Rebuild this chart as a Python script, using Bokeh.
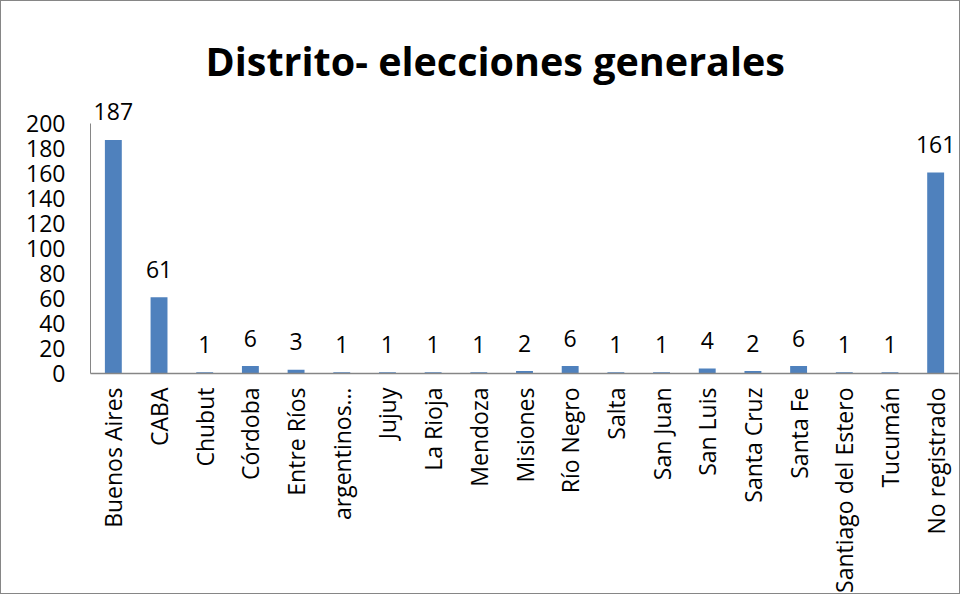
import math
from bokeh.plotting import figure
from bokeh.models import ColumnDataSource, FactorRange, Range1d, FixedTicker
from bokeh.core.properties import value
from bokeh.embed import file_html
from bokeh.resources import INLINE

categories = ["Buenos Aires", "CABA", "Chubut", "Córdoba", "Entre Ríos", "argentinos…",
              "Jujuy", "La Rioja", "Mendoza", "Misiones", "Río Negro", "Salta",
              "San Juan", "San Luis", "Santa Cruz", "Santa Fe", "Santiago del Estero",
              "Tucumán", "No registrado"]
counts = [187, 61, 1, 6, 3, 1, 1, 1, 1, 2, 6, 1, 1, 4, 2, 6, 1, 1, 161]
y_ticks = [0, 20, 40, 60, 80, 100, 120, 140, 160, 180, 200]

title_text = "Distrito- elecciones generales"

src = ColumnDataSource(dict(cat=categories, val=counts, lab=[str(v) for v in counts]))

p = figure(x_range=FactorRange(*categories, range_padding=0),
           y_range=Range1d(0, 225),
           width=960, height=594, output_backend="svg", toolbar_location=None,
           min_border_left=89, min_border_right=3, min_border_top=91, min_border_bottom=221)
p.styles = {"border": "1px solid #868686"}

p.vbar(x="cat", top="val", width=0.37, source=src, fill_color="#4F81BD", line_color=None)
p.text(x="cat", y="val", text="lab", source=src, y_offset=-28,
       text_align="center", text_baseline="alphabetic",
       text_font=value("Open Sans"), text_font_size="23px", text_color="#000000")

p.title.text = title_text
p.title.text_font = "Open Sans"
p.title.text_font_style = "bold"
p.title.text_font_size = "39.5px"
p.title.align = "left"
p.title.offset = 115
p.title.standoff = 10
p.title.text_color = "#000000"

p.xgrid.visible = False
p.ygrid.visible = False
p.outline_line_color = None
p.background_fill_color = "white"
p.border_fill_color = "white"

ya = p.yaxis[0]
ya.ticker = FixedTicker(ticks=y_ticks)
ya.bounds = (0, 200)
ya.axis_line_color = "#868686"
ya.major_tick_line_color = None
ya.minor_tick_line_color = None
ya.major_label_text_font = "Open Sans"
ya.major_label_text_font_size = "23px"
ya.major_label_text_color = "#000000"
ya.major_label_standoff = 19

xa = p.xaxis[0]
xa.axis_line_color = "#868686"
xa.axis_line_width = 1.5
xa.major_tick_line_color = None
xa.minor_tick_line_color = None
xa.major_label_orientation = math.pi / 2
xa.major_label_text_font = "Open Sans"
xa.major_label_text_font_size = "23px"
xa.major_label_text_color = "#000000"
xa.major_label_standoff = 8

open("out.html", "w").write(file_html(p, INLINE))
